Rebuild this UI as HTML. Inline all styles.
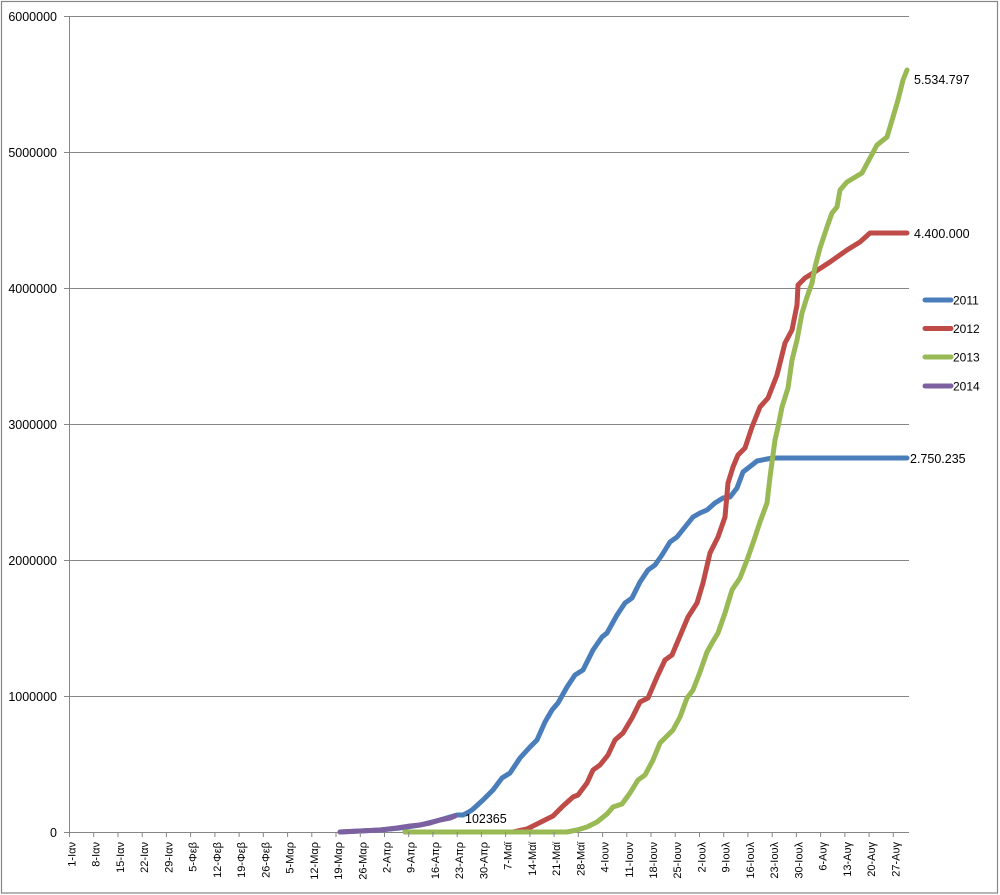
<!DOCTYPE html>
<html><head><meta charset="utf-8"><style>
html,body{margin:0;padding:0;background:#fff;}
svg{display:block;}
text{font-family:"Liberation Sans",sans-serif;fill:#000;}
</style></head><body>
<svg width="1000" height="895" viewBox="0 0 1000 895" xmlns="http://www.w3.org/2000/svg">
<rect x="0" y="0" width="1000" height="895" fill="#fff"/>
<rect x="1.5" y="1.5" width="996" height="891.5" fill="none" stroke="#868686" stroke-width="1.2"/>
<g stroke="#868686" stroke-width="1">
<line x1="69" y1="16.5" x2="909" y2="16.5"/>
<line x1="69" y1="152.5" x2="909" y2="152.5"/>
<line x1="69" y1="288.5" x2="909" y2="288.5"/>
<line x1="69" y1="424.5" x2="909" y2="424.5"/>
<line x1="69" y1="560.5" x2="909" y2="560.5"/>
<line x1="69" y1="696.5" x2="909" y2="696.5"/>
<line x1="69" y1="832.5" x2="909" y2="832.5"/>
<line x1="69.5" y1="16" x2="69.5" y2="833"/>
<line x1="64" y1="16.5" x2="69" y2="16.5"/>
<line x1="64" y1="152.5" x2="69" y2="152.5"/>
<line x1="64" y1="288.5" x2="69" y2="288.5"/>
<line x1="64" y1="424.5" x2="69" y2="424.5"/>
<line x1="64" y1="560.5" x2="69" y2="560.5"/>
<line x1="64" y1="696.5" x2="69" y2="696.5"/>
<line x1="64" y1="832.5" x2="69" y2="832.5"/>
</g>
<g font-size="12.5" text-anchor="end">
<text x="57" y="21">6000000</text>
<text x="57" y="157">5000000</text>
<text x="57" y="293">4000000</text>
<text x="57" y="429">3000000</text>
<text x="57" y="565">2000000</text>
<text x="57" y="701">1000000</text>
<text x="57" y="837">0</text>
</g>
<g id="xt" stroke="#868686" stroke-width="1"></g>
<g id="xl" font-size="11" text-anchor="end"></g>

<g fill="none" stroke-width="5" stroke-linejoin="round" stroke-linecap="round">
<polyline stroke="#4A7EBB" points="340,832 380,830 400,828 420,825 440,820 450,817 457,815 463,815 467,813 472,810 483,800 493,790 502,778 510,773 520,758 530,747 537,740 545,722 552,710 558,703 567,687 575,675 583,670 593,650 602,637 607,633 617,615 625,603 632,598 640,582 648,570 655,565 662,555 670,542 677,537 685,527 693,517 700,513 707,510 715,503 723,498 730,497 737,488 743,472 752,465 757,461 767,459 773,458 907,458"/>
<polyline stroke="#BE4B48" points="405,832 513,832 527,829 537,824 547,819 553,816 563,806 573,797 578,795 587,783 593,770 600,765 608,755 615,740 623,733 632,718 640,702 648,698 657,677 665,660 672,655 680,636 688,617 697,603 703,583 710,553 718,537 725,517 728,483 733,467 738,455 745,448 752,427 760,407 768,398 777,375 785,343 792,330 797,305 798,285 805,278 813,273 830,262 847,250 860,242 870,233 907,233"/>
<polyline stroke="#98B954" points="405,832 567,832 577,830 587,827 597,822 607,814 613,807 622,804 630,793 638,780 645,775 653,760 660,743 668,735 673,730 680,717 687,698 693,690 700,672 707,652 712,643 718,633 725,613 732,590 740,578 747,560 753,543 760,522 767,503 770,477 775,440 778,427 782,407 788,388 792,360 797,340 802,313 807,297 812,283 815,267 820,248 827,227 832,213 837,207 840,190 847,182 862,173 870,158 877,145 887,137 893,117 898,100 903,80 907,70"/>
<polyline stroke="#7D60A0" points="340,832 360,831 380,830 397,828 410,826 420,825 430,823 440,820 450,818 455,816"/>
</g>

<g font-size="12.5">
<text x="914" y="84">5.534.797</text>
<text x="914" y="238">4.400.000</text>
<text x="910" y="463">2.750.235</text>
<text x="465" y="823">102365</text>
</g>

<g stroke-width="5" stroke-linecap="round">
<line x1="925" y1="300" x2="951" y2="300" stroke="#4A7EBB"/>
<line x1="925" y1="328.5" x2="951" y2="328.5" stroke="#BE4B48"/>
<line x1="925" y1="357" x2="951" y2="357" stroke="#98B954"/>
<line x1="925" y1="386" x2="951" y2="386" stroke="#7D60A0"/>
</g>
<g font-size="12">
<text x="953" y="304.5">2011</text>
<text x="953" y="333">2012</text>
<text x="953" y="361.5">2013</text>
<text x="953" y="390.5">2014</text>
</g>

<g font-size="11" text-anchor="end">
<text transform="translate(75.5,842) rotate(-90)">1-Ιαν</text>
<text transform="translate(99.7,842) rotate(-90)">8-Ιαν</text>
<text transform="translate(124,842) rotate(-90)">15-Ιαν</text>
<text transform="translate(148.2,842) rotate(-90)">22-Ιαν</text>
<text transform="translate(172.4,842) rotate(-90)">29-Ιαν</text>
<text transform="translate(196.6,842) rotate(-90)">5-Φεβ</text>
<text transform="translate(220.9,842) rotate(-90)">12-Φεβ</text>
<text transform="translate(245.1,842) rotate(-90)">19-Φεβ</text>
<text transform="translate(269.3,842) rotate(-90)">26-Φεβ</text>
<text transform="translate(293.6,842) rotate(-90)">5-Μαρ</text>
<text transform="translate(317.8,842) rotate(-90)">12-Μαρ</text>
<text transform="translate(342,842) rotate(-90)">19-Μαρ</text>
<text transform="translate(366.3,842) rotate(-90)">26-Μαρ</text>
<text transform="translate(390.5,842) rotate(-90)">2-Απρ</text>
<text transform="translate(414.7,842) rotate(-90)">9-Απρ</text>
<text transform="translate(438.9,842) rotate(-90)">16-Απρ</text>
<text transform="translate(463.2,842) rotate(-90)">23-Απρ</text>
<text transform="translate(487.4,842) rotate(-90)">30-Απρ</text>
<text transform="translate(511.6,842) rotate(-90)">7-Μαϊ</text>
<text transform="translate(535.9,842) rotate(-90)">14-Μαϊ</text>
<text transform="translate(560.1,842) rotate(-90)">21-Μαϊ</text>
<text transform="translate(584.3,842) rotate(-90)">28-Μαϊ</text>
<text transform="translate(608.6,842) rotate(-90)">4-Ιουν</text>
<text transform="translate(632.8,842) rotate(-90)">11-Ιουν</text>
<text transform="translate(657,842) rotate(-90)">18-Ιουν</text>
<text transform="translate(681.2,842) rotate(-90)">25-Ιουν</text>
<text transform="translate(705.5,842) rotate(-90)">2-Ιουλ</text>
<text transform="translate(729.7,842) rotate(-90)">9-Ιουλ</text>
<text transform="translate(753.9,842) rotate(-90)">16-Ιουλ</text>
<text transform="translate(778.2,842) rotate(-90)">23-Ιουλ</text>
<text transform="translate(802.4,842) rotate(-90)">30-Ιουλ</text>
<text transform="translate(826.6,842) rotate(-90)">6-Αυγ</text>
<text transform="translate(850.9,842) rotate(-90)">13-Αυγ</text>
<text transform="translate(875.1,842) rotate(-90)">20-Αυγ</text>
<text transform="translate(899.3,842) rotate(-90)">27-Αυγ</text>
</g>
<g stroke="#868686" stroke-width="1">
<line x1="69.5" y1="832" x2="69.5" y2="837"/>
<line x1="93.7" y1="832" x2="93.7" y2="837"/>
<line x1="118" y1="832" x2="118" y2="837"/>
<line x1="142.2" y1="832" x2="142.2" y2="837"/>
<line x1="166.4" y1="832" x2="166.4" y2="837"/>
<line x1="190.6" y1="832" x2="190.6" y2="837"/>
<line x1="214.9" y1="832" x2="214.9" y2="837"/>
<line x1="239.1" y1="832" x2="239.1" y2="837"/>
<line x1="263.3" y1="832" x2="263.3" y2="837"/>
<line x1="287.6" y1="832" x2="287.6" y2="837"/>
<line x1="311.8" y1="832" x2="311.8" y2="837"/>
<line x1="336" y1="832" x2="336" y2="837"/>
<line x1="360.3" y1="832" x2="360.3" y2="837"/>
<line x1="384.5" y1="832" x2="384.5" y2="837"/>
<line x1="408.7" y1="832" x2="408.7" y2="837"/>
<line x1="432.9" y1="832" x2="432.9" y2="837"/>
<line x1="457.2" y1="832" x2="457.2" y2="837"/>
<line x1="481.4" y1="832" x2="481.4" y2="837"/>
<line x1="505.6" y1="832" x2="505.6" y2="837"/>
<line x1="529.9" y1="832" x2="529.9" y2="837"/>
<line x1="554.1" y1="832" x2="554.1" y2="837"/>
<line x1="578.3" y1="832" x2="578.3" y2="837"/>
<line x1="602.6" y1="832" x2="602.6" y2="837"/>
<line x1="626.8" y1="832" x2="626.8" y2="837"/>
<line x1="651" y1="832" x2="651" y2="837"/>
<line x1="675.2" y1="832" x2="675.2" y2="837"/>
<line x1="699.5" y1="832" x2="699.5" y2="837"/>
<line x1="723.7" y1="832" x2="723.7" y2="837"/>
<line x1="747.9" y1="832" x2="747.9" y2="837"/>
<line x1="772.2" y1="832" x2="772.2" y2="837"/>
<line x1="796.4" y1="832" x2="796.4" y2="837"/>
<line x1="820.6" y1="832" x2="820.6" y2="837"/>
<line x1="844.9" y1="832" x2="844.9" y2="837"/>
<line x1="869.1" y1="832" x2="869.1" y2="837"/>
<line x1="893.3" y1="832" x2="893.3" y2="837"/>
</g>
</svg>
</body></html>
